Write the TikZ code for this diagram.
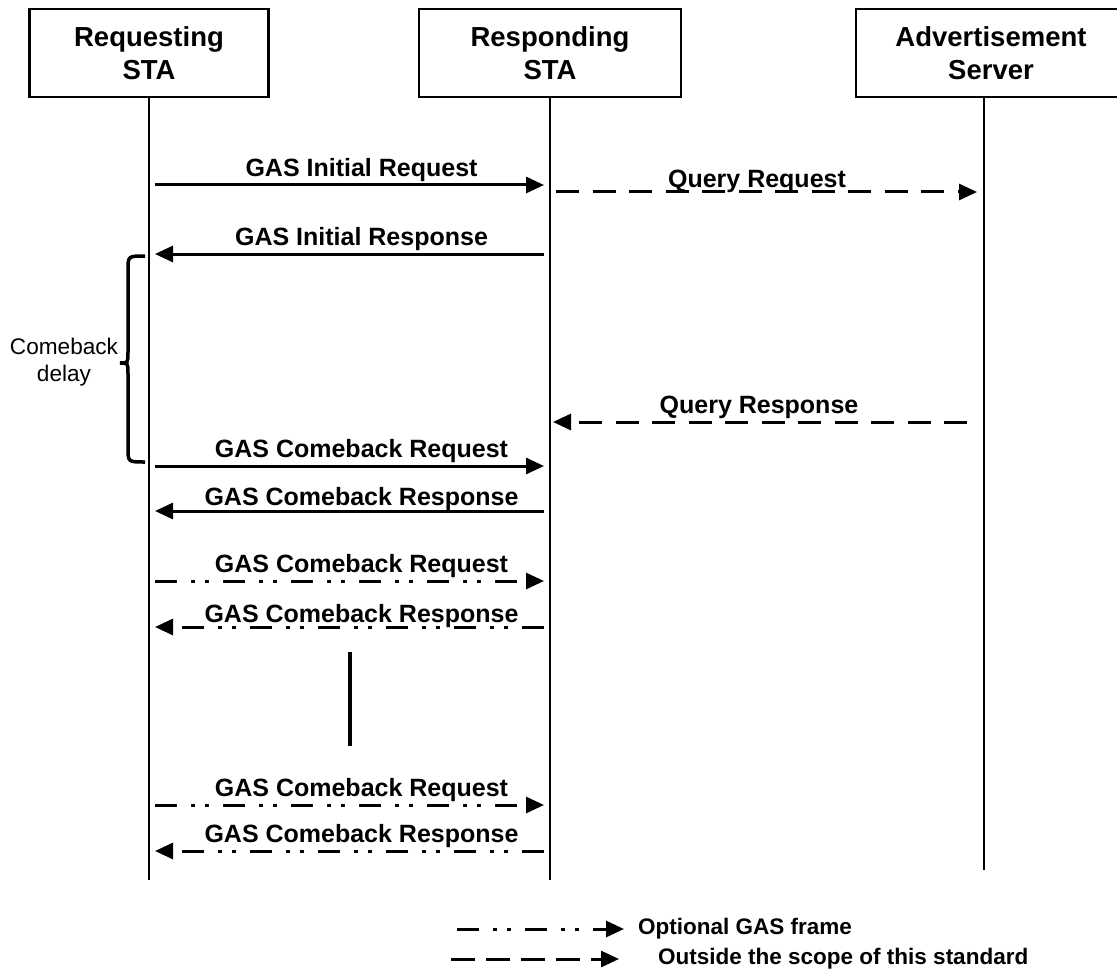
\documentclass[tikz,border=0pt]{standalone}
\usepackage{fontspec}
\setmainfont{Liberation Sans}
\usetikzlibrary{arrows.meta}
\newcommand{\boxfont}{\bfseries\fontsize{27.5}{33}\selectfont}
\newcommand{\msgfont}{\bfseries\fontsize{25}{30}\selectfont}
\newcommand{\keyfont}{\bfseries\fontsize{22.5}{27}\selectfont}

\tikzset{
  entity/.style={draw, line width=2.5pt, minimum height=88pt, align=center, font=\boxfont},
  lifeline/.style={line width=2pt},
  msg/.style={line width=3pt, -{Triangle[length=18pt,width=16pt]}, shorten <=6pt, shorten >=6pt},
  optmsg/.style={msg, dash pattern=on 22pt off 14pt on 4pt off 10pt on 4pt off 14pt},
  extmsg/.style={msg, dash pattern=on 23pt off 13.5pt},
  lbl/.style={anchor=base, font=\msgfont, inner sep=0pt, yshift=9pt, xshift=12pt},
}

\begin{document}
\begin{tikzpicture}[x=1pt,y=-1pt]
    \useasboundingbox (0,0) rectangle (1117,971);
    \node[entity, minimum width=239pt] (req) at (149,53) {Requesting\\STA};
    \node[entity, minimum width=262pt] (resp) at (550,53) {Responding\\STA};
    \node[entity, minimum width=270pt] (adv) at (991,53) {Advertisement\\Server};

    % lifelines
    \coordinate (advtop) at (984,97);
    \coordinate (reqend) at (149,880);
    \coordinate (respend) at (550,880);
    \coordinate (advend) at (984,870);
    \draw[lifeline] (req.south) -- (reqend);
    \draw[lifeline] (resp.south) -- (respend);
    \draw[lifeline] (advtop) -- (advend);

    % message ends on the lifelines
    \foreach \n/\y in {1/185, 2/254, 3/466, 4/511, 5/581, 6/627, 7/805, 8/851} {
        \coordinate (a\n) at (149,\y);
        \coordinate (b\n) at (550,\y);
    }
    \coordinate (qa) at (550,192);
    \coordinate (qb) at (984,192);
    \coordinate (ra) at (984,422);
    \coordinate (rb) at (550,422);

    \path[every node/.style={lbl}]
    (a1) edge[msg] node [midway] {GAS Initial Request} (b1)
    (qa) edge[extmsg, shorten >=7pt] node [midway, yshift=-4pt, xshift=-22pt] {Query Request} (qb)
    (b2) edge[msg] node [midway] {GAS Initial Response} (a2)
    (ra) edge[extmsg, shorten <=17pt, shorten >=3pt] node [midway, xshift=-20pt] {Query Response} (rb)
    (a3) edge[msg] node [midway] {GAS Comeback Request} (b3)
    (b4) edge[msg] node [midway, yshift=-3pt] {GAS Comeback Response} (a4)
    (a5) edge[optmsg] node [midway] {GAS Comeback Request} (b5)
    (b6) edge[optmsg] node [midway, yshift=-4pt] {GAS Comeback Response} (a6)
    (a7) edge[optmsg] node [midway] {GAS Comeback Request} (b7)
    (b8) edge[optmsg] node [midway] {GAS Comeback Response} (a8);

    % comeback delay
    \draw[line width=3.5pt] (145,256) .. controls (128,256) .. (128,270) -- (128,352)
        .. controls (128,363) .. (120,363) .. controls (128,363) .. (128,374)
        -- (128,448) .. controls (128,462) .. (145,462);
    \node[align=center, font=\fontsize{22.6}{27}\selectfont] (delay) at (64,362) {Comeback\\delay};

    % continuation bar
    \draw[line width=4pt] (350,652) -- (350,746);

    % legend
    \coordinate (opta) at (457,929);
    \coordinate (optb) at (624,929);
    \coordinate (exta) at (451,959);
    \coordinate (extb) at (619,959);
    \draw[optmsg, shorten <=0pt, shorten >=0pt] (opta) -- (optb);
    \draw[msg, dash pattern=on 24pt off 11pt, shorten <=0pt, shorten >=0pt] (exta) -- (extb);
    \node[anchor=west, inner sep=0pt, font=\keyfont] (optlbl) at (638,929) {Optional GAS frame};
    \node[anchor=west, inner sep=0pt, font=\keyfont] (extlbl) at (658,959) {Outside the scope of this standard};
\end{tikzpicture}
\end{document}
